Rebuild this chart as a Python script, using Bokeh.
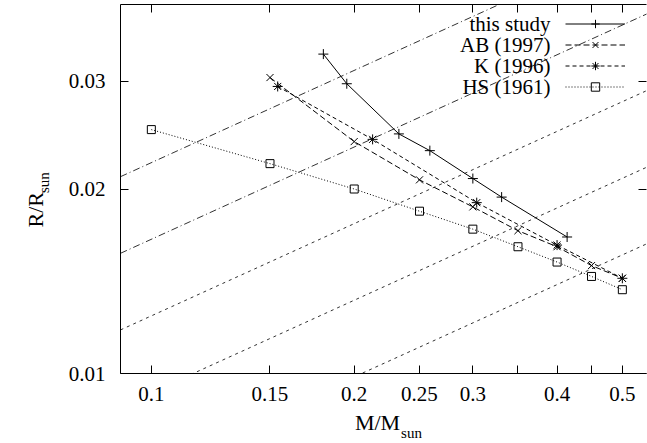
import math
import numpy as np
from bokeh.plotting import figure
from bokeh.layouts import row, column
from bokeh.models import LogAxis, FixedTicker, Label, Legend, LegendItem, Range1d
from bokeh.core.properties import value
from bokeh.embed import file_html
from bokeh.resources import INLINE

# ---- data ----
this_m = [0.18, 0.195, 0.233, 0.259, 0.30, 0.331, 0.414]
this_r = [0.0332, 0.0297, 0.0246, 0.0231, 0.0208, 0.0194, 0.0167]

ab_m = [0.15, 0.2, 0.25, 0.3, 0.35, 0.4, 0.45, 0.5]
ab_r = [0.0304, 0.0239, 0.0207, 0.0187, 0.0171, 0.0161, 0.0150, 0.0143]

k_m = [0.154, 0.213, 0.304, 0.40, 0.50]
k_r = [0.0294, 0.0241, 0.0190, 0.0162, 0.0143]

hs_m = [0.1, 0.15, 0.2, 0.25, 0.3, 0.35, 0.4, 0.45, 0.5]
hs_r = [0.0250, 0.0220, 0.0200, 0.0184, 0.0172, 0.0161, 0.0152, 0.0144, 0.0137]

series_names = ["this study", "AB (1997)", "K (1996)", "HS (1961)"]

# lines of constant surface gravity (log g, cgs)
logg_levels = [6.75, 7.0, 7.25, 7.5, 7.75]
logg_sun = 4.438
mass_span = [0.09, 0.55]

x_ticks = [0.1, 0.15, 0.2, 0.25, 0.3, 0.35, 0.4, 0.45, 0.5]
x_tick_labels = ["0.1", "0.15", "0.2", "0.25", "0.3", "", "0.4", "", "0.5"]
y_ticks = [0.01, 0.02, 0.03]
y_tick_labels = ["0.01", "0.02", "0.03"]

x_title = ["M/M", "sun"]
y_title = ["R/R", "sun"]

FONT = "Liberation Serif"
INK = "#000000"

W, H = 647, 443
YLAB_W = 56
MAIN_W = W - YLAB_W
MAIN_H = 410
XLAB_H = H - MAIN_H

p = figure(width=MAIN_W, height=MAIN_H, x_axis_type="log", y_axis_type="log",
           x_range=Range1d(0.09, 0.543), y_range=Range1d(0.01, 0.04),
           output_backend="svg", toolbar_location=None, title=None,
           min_border_left=120 - YLAB_W, min_border_right=1, min_border_top=4,
           min_border_bottom=MAIN_H - 373)
p.outline_line_color = None
p.xgrid.visible = False
p.ygrid.visible = False
p.background_fill_color = "white"
p.border_fill_color = "white"

def style_axis(ax, ticks, labels, show_labels=True, show_line=True):
    ax.ticker = FixedTicker(ticks=ticks)
    ax.major_label_overrides = {t: l for t, l in zip(ticks, labels)}
    ax.major_tick_in = 8
    ax.major_tick_out = 0
    ax.minor_tick_line_color = None
    ax.major_tick_line_color = INK
    ax.major_tick_line_width = 1
    ax.axis_line_color = INK if show_line else None
    ax.axis_line_width = 1
    ax.major_label_text_font = FONT
    ax.major_label_text_color = INK
    if show_labels:
        ax.major_label_text_font_size = "21px"
    else:
        ax.major_label_text_font_size = "0px"
        ax.major_label_standoff = 0

style_axis(p.xaxis[0], x_ticks, x_tick_labels)
p.xaxis[0].major_label_standoff = 13
style_axis(p.yaxis[0], y_ticks, y_tick_labels)
p.yaxis[0].major_label_standoff = 15

top = LogAxis()
style_axis(top, x_ticks, [""] * len(x_ticks), show_labels=False)
p.add_layout(top, "above")
right = LogAxis()
style_axis(right, y_ticks, [""] * len(y_ticks), show_labels=False, show_line=False)
p.add_layout(right, "right")

# constant log g lines
for i, lg in enumerate(logg_levels):
    m = np.array(mass_span)
    r = np.sqrt(m / 10 ** (lg - logg_sun))
    dash = "7 3 1 3" if i < 2 else "3 4"
    p.line(m, r, line_color="#333333", line_width=1, line_dash=dash)

# series
l1 = p.line(this_m, this_r, line_color=INK, line_width=1)
s1 = p.scatter(this_m, this_r, marker="cross", size=10, line_color=INK, line_width=1)
l2 = p.line(ab_m, ab_r, line_color=INK, line_width=1, line_dash="6 3")
s2 = p.scatter(ab_m, ab_r, marker="x", size=10, line_color=INK, line_width=1)
l3 = p.line(k_m, k_r, line_color=INK, line_width=1, line_dash="4 3")
s3 = p.scatter(k_m, k_r, marker="asterisk", size=10, line_color=INK, line_width=1)
l4 = p.line(hs_m, hs_r, line_color=INK, line_width=1, line_dash="1 2")
s4 = p.scatter(hs_m, hs_r, marker="square", size=8, line_color=INK, line_width=1,
               fill_color=None)

# legend: samples from Bokeh's Legend, text right-aligned to their left (gnuplot style)
legend = Legend(items=[
    LegendItem(label=" ", renderers=[l1, s1]),
    LegendItem(label=" ", renderers=[l2, s2]),
    LegendItem(label=" ", renderers=[l3, s3]),
    LegendItem(label=" ", renderers=[l4, s4]),
], location=(445, 276), glyph_width=60, glyph_height=21, label_height=21,
   label_width=0, spacing=0, padding=0, margin=0, label_standoff=0,
   label_text_font=FONT, label_text_font_size="8px",
   background_fill_alpha=0, border_line_color=None)
p.add_layout(legend)

for i, name in enumerate(series_names):
    p.add_layout(Label(x=430, y=349.5 - 21 * i, x_units="screen", y_units="screen",
                       text=name, text_align="right", text_baseline="middle",
                       text_font=FONT, text_font_size="21px", text_color=INK))

def blank_fig(w, h):
    f = figure(width=w, height=h, x_range=Range1d(0, w), y_range=Range1d(0, h),
               output_backend="svg", toolbar_location=None, title=None,
               x_axis_location=None, y_axis_location=None,
               min_border_left=0, min_border_right=0, min_border_top=0,
               min_border_bottom=0)
    f.outline_line_color = None
    f.xgrid.visible = False
    f.ygrid.visible = False
    f.background_fill_color = "white"
    f.border_fill_color = "white"
    return f

# y-axis title (rotated), centres in the left strip (y measured upward)
yl = blank_fig(YLAB_W, MAIN_H)
yl.text(x=[35], y=[MAIN_H - 228], text=[y_title[0]], angle=math.pi / 2,
        text_align="center", text_baseline="middle", text_font=value(FONT),
        text_font_size=value("22px"), text_color=INK)
yl.text(x=[43], y=[MAIN_H - 198], text=[y_title[1]], angle=math.pi / 2,
        text_align="center", text_baseline="middle", text_font=value(FONT),
        text_font_size=value("15px"), text_color=INK)

# x-axis title: strip spanning the full width, x in page pixels
xl = blank_fig(W, XLAB_H)
xl.text(x=[377], y=[H - 422], text=[x_title[0]], text_align="center",
        text_baseline="middle", text_font=value(FONT),
        text_font_size=value("22px"), text_color=INK)
xl.text(x=[411], y=[H - 432], text=[x_title[1]], text_align="center",
        text_baseline="middle", text_font=value(FONT),
        text_font_size=value("15px"), text_color=INK)

layout = column(row(yl, p), xl)
open("out.html", "w").write(file_html(layout, INLINE))
